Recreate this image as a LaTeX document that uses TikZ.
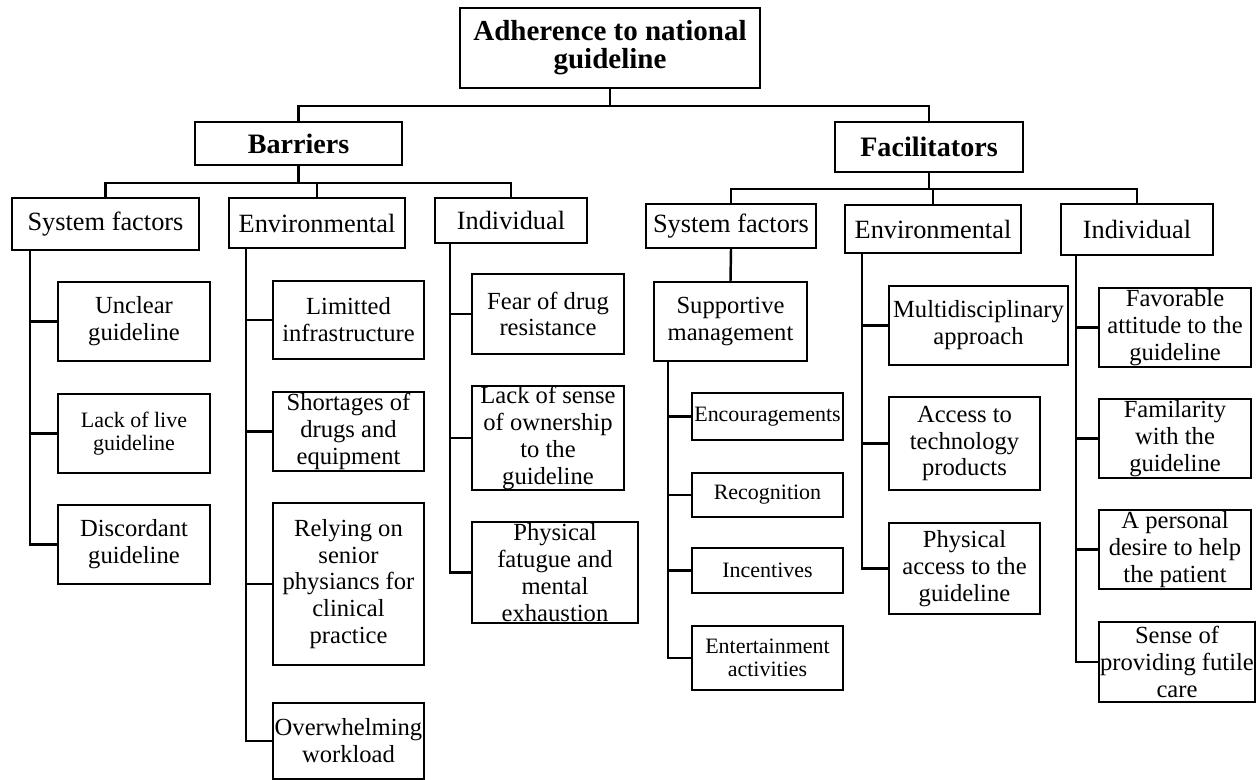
\documentclass[tikz,border=0pt]{standalone}
\usepackage{fontspec}
\setmainfont{Liberation Serif}
\tikzset{
  bx/.style={draw, line width=1.4pt, inner sep=0pt, align=center, font=\fontsize{14}{15.3}\selectfont},
  sm/.style={font=\fontsize{12.5}{13.3}\selectfont},
  cat/.style={font=\fontsize{15}{17}\selectfont},
  hd/.style={font=\bfseries\fontsize{16}{16}\selectfont},
  ttl/.style={font=\bfseries\fontsize{16.5}{15.9}\selectfont},
  ln/.style={line width=1.4pt},
  wh/.style n args={2}{minimum width=#1cm, minimum height=#2cm}
}
\begin{document}
\begin{tikzpicture}[x=0.02cm, y=-0.02cm]
\useasboundingbox (0,0) rectangle (1257,780);
% level 0 and 1
\node[bx, ttl, wh={6.0}{1.6}] (root) at (610,48) {Adherence to national\\guideline};
\node[bx, hd, wh={4.14}{0.86}] (bar) at (298.5,143.5) {Barriers};
\node[bx, hd, wh={3.76}{1.0}] (fac) at (929,147) {Facilitators};
% level 2
\node[bx, cat, wh={3.74}{1.04}] (bsf) at (105.5,224) {System factors};
\node[bx, cat, wh={3.52}{1.0}] (benv) at (317,223) {Environmental};
\node[bx, cat, wh={3.04}{0.9}] (bind) at (511,220.5) {Individual};
\node[bx, cat, wh={3.4}{0.88}] (fsf) at (731,226) {System factors};
\node[bx, cat, wh={3.52}{0.96}] (fenv) at (933,229) {Environmental};
\node[bx, cat, wh={3.04}{1.02}] (find) at (1137,229.5) {Individual};
% barriers / system factors
\node[bx, wh={3.04}{1.58}] (u1) at (134,321.5) {Unclear\\guideline};
\node[bx, sm, wh={3.04}{1.58}] (u2) at (134,433.5) {Lack of live\\guideline};
\node[bx, wh={3.04}{1.58}] (u3) at (134,544.5) {Discordant\\guideline};
% barriers / environmental
\node[bx, wh={3.02}{1.56}] (e1) at (348.5,320) {Limitted\\infrastructure};
\node[bx, wh={3.02}{1.58}] (e2) at (348.5,431.5) {Shortages of\\drugs and\\equipment};
\node[bx, wh={3.02}{3.24}] (e3) at (348.5,584) {Relying on\\senior\\physiancs for\\clinical\\practice};
\node[bx, wh={3.02}{1.52}] (e4) at (348.5,741) {Overwhelming\\workload};
% barriers / individual
\node[bx, wh={3.04}{1.6}] (i1) at (548,314) {Fear of drug\\resistance};
\node[bx, wh={3.04}{2.08}] (i2) at (548,438) {Lack of sense\\of ownership\\to the\\guideline};
\node[bx, wh={3.32}{2.02}] (i3) at (555,572.5) {Physical\\fatugue and\\mental\\exhaustion};
% facilitators / system factors
\node[bx, wh={3.06}{1.58}] (sup) at (730.5,321.5) {Supportive\\management};
\node[bx, sm, wh={3.02}{0.94}] (s1) at (767.5,416.5) {Encouragements};
\node[bx, sm, wh={3.02}{0.88}] (s2) at (767.5,495) {Recognition};
\node[bx, sm, wh={3.02}{0.9}] (s3) at (767.5,570.5) {Incentives};
\node[bx, sm, wh={3.02}{1.28}] (s4) at (767.5,658) {Entertainment\\activities};
% facilitators / environmental
\node[bx, wh={3.58}{1.58}] (m1) at (978.5,325.5) {Multidisciplinary\\approach};
\node[bx, wh={3.02}{1.86}] (m2) at (964.5,443.5) {Access to\\technology\\products};
\node[bx, wh={3.02}{1.82}] (m3) at (964.5,568.5) {Physical\\access to the\\guideline};
% facilitators / individual
\node[bx, wh={3.04}{1.58}] (f1) at (1175,327.5) {Favorable\\attitude to the\\guideline};
\node[bx, wh={3.04}{1.58}] (f2) at (1175,438.5) {Familarity\\with the\\guideline};
\node[bx, wh={3.04}{1.58}] (f3) at (1175,549.5) {A personal\\desire to help\\the patient};
\node[bx, wh={3.12}{1.6}] (f4) at (1177,662) {Sense of\\providing futile\\care};
% connectors: tree levels
\draw[ln] (root.south) -- ++(0,17) -| (bar.north);
\draw[ln] (root.south) -- ++(0,17) -| (fac.north);
\foreach \c in {bsf,benv,bind} \draw[ln] (bar.south) -- ++(0,17) -| (\c.north);
\foreach \c in {fsf,fenv,find} \draw[ln] (fac.south) -- ++(0,16) -| (\c.north);
\draw[ln] (fsf.south) -- (sup.north);
% connectors: trunks with branches
\foreach \c in {u1,u2,u3} \draw[ln] ([xshift=0.38cm]bsf.south west) |- (\c.west);
\foreach \c in {e1,e2,e3,e4} \draw[ln] ([xshift=0.36cm]benv.south west) |- (\c.west);
\foreach \c in {i1,i2,i3} \draw[ln] ([xshift=0.32cm]bind.south west) |- (\c.west);
\foreach \c in {s1,s2,s3,s4} \draw[ln] ([xshift=0.3cm]sup.south west) |- (\c.west);
\foreach \c in {m1,m2,m3} \draw[ln] ([xshift=0.36cm]fenv.south west) |- (\c.west);
\foreach \c in {f1,f2,f3,f4} \draw[ln] ([xshift=0.32cm]find.south west) |- (\c.west);
\end{tikzpicture}
\end{document}
